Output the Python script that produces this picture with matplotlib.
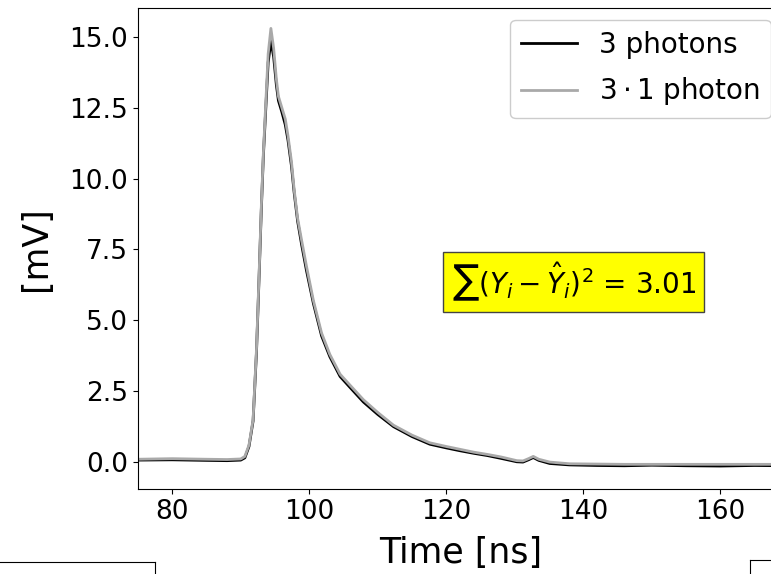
import matplotlib
matplotlib.use("Agg")
import matplotlib.pyplot as plt

# ---- data ----
time_ns = [75, 80, 85, 88, 90, 90.6, 91.2, 91.8, 92.3, 92.7, 93.0, 93.3, 93.7, 94.0,
           94.4, 94.8, 95.2, 95.5, 96.0, 96.5, 96.9, 97.4, 97.8, 98.3, 98.9, 99.6,
           100.6, 101.8, 103, 104.5, 106, 107.9, 110, 112.3, 115, 117.6, 120, 122,
           124, 126, 128, 130.3, 131.2, 132.0, 132.7, 133.5, 135.1, 138, 142, 146,
           150, 155, 160, 165, 170, 175]

three_photons = [0.07, 0.08, 0.06, 0.05, 0.07, 0.15, 0.55, 1.45, 3.9, 6.7, 8.9, 10.8,
                 12.7, 14.1, 14.85, 14.3, 13.3, 12.75, 12.35, 11.9, 11.35, 10.45, 9.5,
                 8.5, 7.65, 6.75, 5.6, 4.45, 3.72, 3.02, 2.62, 2.12, 1.68, 1.25, 0.9,
                 0.63, 0.5, 0.4, 0.31, 0.23, 0.13, 0.01, 0.0, 0.08, 0.16, 0.06,
                 -0.05, -0.1, -0.12, -0.13, -0.11, -0.13, -0.14, -0.12, -0.13, -0.13]

one_photon_x3 = [0.10, 0.12, 0.10, 0.09, 0.11, 0.20, 0.60, 1.5, 4.0, 6.8, 9.0, 10.9,
                 12.9, 14.4, 15.3, 14.6, 13.5, 12.9, 12.5, 12.1, 11.5, 10.6, 9.6,
                 8.6, 7.8, 6.9, 5.7, 4.55, 3.8, 3.1, 2.7, 2.2, 1.75, 1.3, 0.95,
                 0.68, 0.55, 0.45, 0.35, 0.27, 0.18, 0.05, 0.04, 0.12, 0.20, 0.10,
                 0.0, -0.06, -0.07, -0.08, -0.08, -0.08, -0.08, -0.08, -0.08, -0.08]

legend_labels = ["3 photons", r"$3\cdot1$ photon"]
residual_text = r"$\sum(Y_i - \hat{Y}_i)^2$ = 3.01"

W, H = 771, 574
fig = plt.figure(figsize=(W / 100, H / 100), dpi=100)

# main axes (extends past the right edge of the image, as in the reference crop)
left_px, right_px, top_px, bottom_px = 138, 784, 8, 489
ax = fig.add_axes([left_px / W, (H - bottom_px) / H, (right_px - left_px) / W,
                   (bottom_px - top_px) / H])

ax.plot(time_ns, three_photons, color="black", lw=2.0, label=legend_labels[0])
ax.plot(time_ns, one_photon_x3, color="#a9a9a9", lw=2.0, label=legend_labels[1])

ax.set_xlim(75, 169.3)
ax.set_ylim(-0.95, 16.02)
ax.set_xticks([80, 100, 120, 140, 160])
ax.set_yticks([0.0, 2.5, 5.0, 7.5, 10.0, 12.5, 15.0])
ax.tick_params(labelsize=19)
ax.set_xlabel("Time [ns]", fontsize=25, labelpad=8)
ax.set_ylabel("[mV]", fontsize=25, labelpad=12)

fig.legend(loc="upper right", bbox_to_anchor=(1.0, 0.966), borderaxespad=0,
           fontsize=20, labelspacing=0.6, framealpha=1.0)

ax.text(138.6, 6.35, residual_text, fontsize=20, ha="center", va="center",
        bbox=dict(boxstyle="square,pad=0.3", facecolor="yellow", edgecolor="#444444"))

# fragments of neighbouring subplots visible at the bottom of the crop
ax_l = fig.add_axes([-0.2, -0.3, 155 / W + 0.2, 0.3 + (H - 562) / H])
ax_r = fig.add_axes([749.5 / W, -0.3, 0.3, 0.3 + (H - 560) / H])
for a in (ax_l, ax_r):
    a.set_xticks([])
    a.set_yticks([])

fig.savefig("out.png", dpi=100)
